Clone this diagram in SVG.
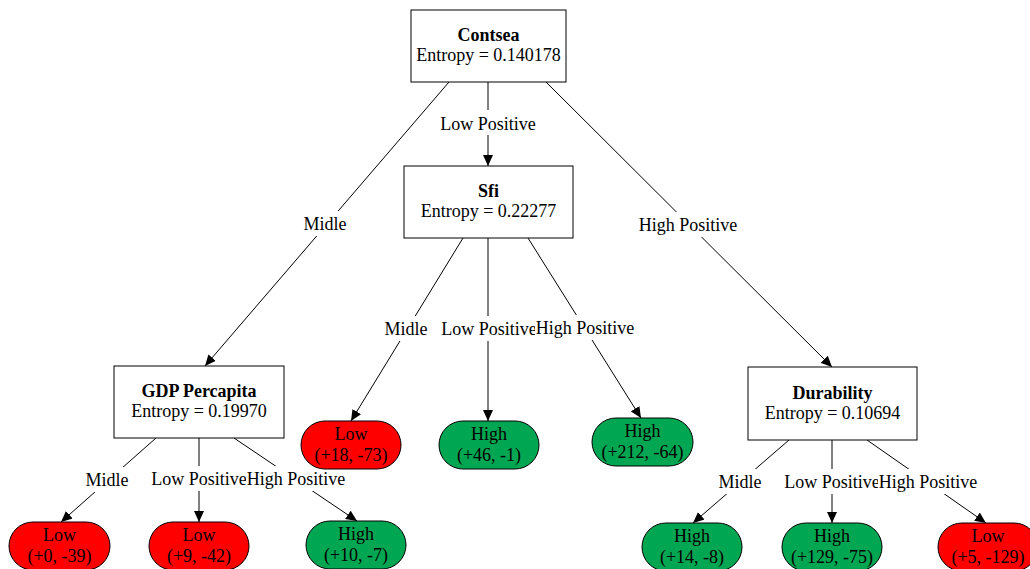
<svg xmlns="http://www.w3.org/2000/svg" width="1030" height="569" viewBox="0 0 1030 569">
<defs>
<marker id="arr" viewBox="0 0 11 10" refX="11" refY="5" markerWidth="11" markerHeight="10" markerUnits="userSpaceOnUse" orient="auto">
<path d="M0,0 L11,5 L0,10 z" fill="#000"/>
</marker>
<style>
text{font-family:"Liberation Serif","Times New Roman",serif;font-size:18px;fill:#000;text-anchor:middle}
.b{font-weight:bold}
.box{fill:#fff;stroke:#000;stroke-width:1}
.red{fill:#ff0000;stroke:#000;stroke-width:1}
.grn{fill:#00a651;stroke:#000;stroke-width:1}
.e{stroke:#000;stroke-width:1;fill:none;marker-end:url(#arr)}
.lb{fill:#fff;stroke:none}
</style>
</defs>
<rect width="1030" height="569" fill="#fff"/>
<g id="connectors">
<line class="e" x1="449" y1="82" x2="205" y2="366"/>
<line class="e" x1="488" y1="82" x2="488" y2="166"/>
<line class="e" x1="546" y1="82" x2="832" y2="367"/>
<line class="e" x1="463" y1="238" x2="351" y2="421"/>
<line class="e" x1="488" y1="238" x2="488" y2="421"/>
<line class="e" x1="528" y1="238" x2="641" y2="418"/>
<line class="e" x1="156" y1="438" x2="61" y2="522"/>
<line class="e" x1="199" y1="438" x2="199" y2="522"/>
<line class="e" x1="234" y1="438" x2="357" y2="521"/>
<line class="e" x1="789" y1="440" x2="693" y2="523"/>
<line class="e" x1="832" y1="440" x2="832" y2="523"/>
<line class="e" x1="867" y1="440" x2="986" y2="523"/>
<g id="labels">
<rect class="lb" x="303" y="211" width="44" height="25"/><text x="325" y="230">Midle</text>
<rect class="lb" x="439" y="110" width="98" height="25"/><text x="488" y="130">Low Positive</text>
<rect class="lb" x="637" y="212" width="102" height="25"/><text x="688" y="231">High Positive</text>
<rect class="lb" x="384" y="316" width="44" height="25"/><text x="406" y="335">Midle</text>
<rect class="lb" x="440" y="316" width="98" height="25"/><text x="489" y="335">Low Positive</text>
<rect class="lb" x="535" y="315" width="100" height="25"/><text x="585" y="334">High Positive</text>
<rect class="lb" x="85" y="467" width="44" height="25"/><text x="107" y="486">Midle</text>
<rect class="lb" x="150" y="466" width="98" height="25"/><text x="199" y="485">Low Positive</text>
<rect class="lb" x="246" y="466" width="100" height="25"/><text x="296" y="485">High Positive</text>
<rect class="lb" x="718" y="469" width="44" height="25"/><text x="740" y="488">Midle</text>
<rect class="lb" x="783" y="469" width="98" height="25"/><text x="832" y="488">Low Positive</text>
<rect class="lb" x="878" y="469" width="100" height="25"/><text x="928" y="488">High Positive</text>
</g>
</g>
<g id="contsea"><rect class="box" x="411" y="10" width="155" height="72"/><text class="b" x="488.5" y="41">Contsea</text><text x="488.5" y="61">Entropy = 0.140178</text></g>
<g id="sfi"><rect class="box" x="404" y="166" width="169" height="72"/><text class="b" x="488.5" y="197">Sfi</text><text x="488.5" y="217">Entropy = 0.22277</text></g>
<g id="gdp"><rect class="box" x="114" y="366" width="170" height="72"/><text class="b" x="199" y="397">GDP Percapita</text><text x="199" y="417">Entropy = 0.19970</text></g>
<g id="durability"><rect class="box" x="748" y="367" width="169" height="73"/><text class="b" x="832.5" y="398.5">Durability</text><text x="832.5" y="418.5">Entropy = 0.10694</text></g>
<g id="leaf1"><rect class="red" x="301" y="421" width="100" height="48" rx="24"/><text x="351" y="440">Low</text><text x="351" y="461">(+18, -73)</text></g>
<g id="leaf2"><rect class="grn" x="439" y="421" width="100" height="48" rx="24"/><text x="489" y="440">High</text><text x="489" y="461">(+46, -1)</text></g>
<g id="leaf3"><rect class="grn" x="592" y="418" width="101" height="48" rx="24"/><text x="642.5" y="437">High</text><text x="642.5" y="458">(+212, -64)</text></g>
<g id="leaf4"><rect class="red" x="9" y="522" width="101" height="48" rx="24"/><text x="59.5" y="541">Low</text><text x="59.5" y="562">(+0, -39)</text></g>
<g id="leaf5"><rect class="red" x="149" y="522" width="100" height="48" rx="24"/><text x="199" y="541">Low</text><text x="199" y="562">(+9, -42)</text></g>
<g id="leaf6"><rect class="grn" x="306" y="521" width="100" height="48" rx="24"/><text x="356" y="540">High</text><text x="356" y="561">(+10, -7)</text></g>
<g id="leaf7"><rect class="grn" x="642" y="523" width="100" height="48" rx="24"/><text x="692" y="542">High</text><text x="692" y="563">(+14, -8)</text></g>
<g id="leaf8"><rect class="grn" x="782" y="523" width="100" height="48" rx="24"/><text x="832" y="542">High</text><text x="832" y="563">(+129, -75)</text></g>
<g id="leaf9"><rect class="red" x="938" y="523" width="100" height="48" rx="24"/><text x="988" y="542">Low</text><text x="988" y="563">(+5, -129)</text></g>
</svg>
